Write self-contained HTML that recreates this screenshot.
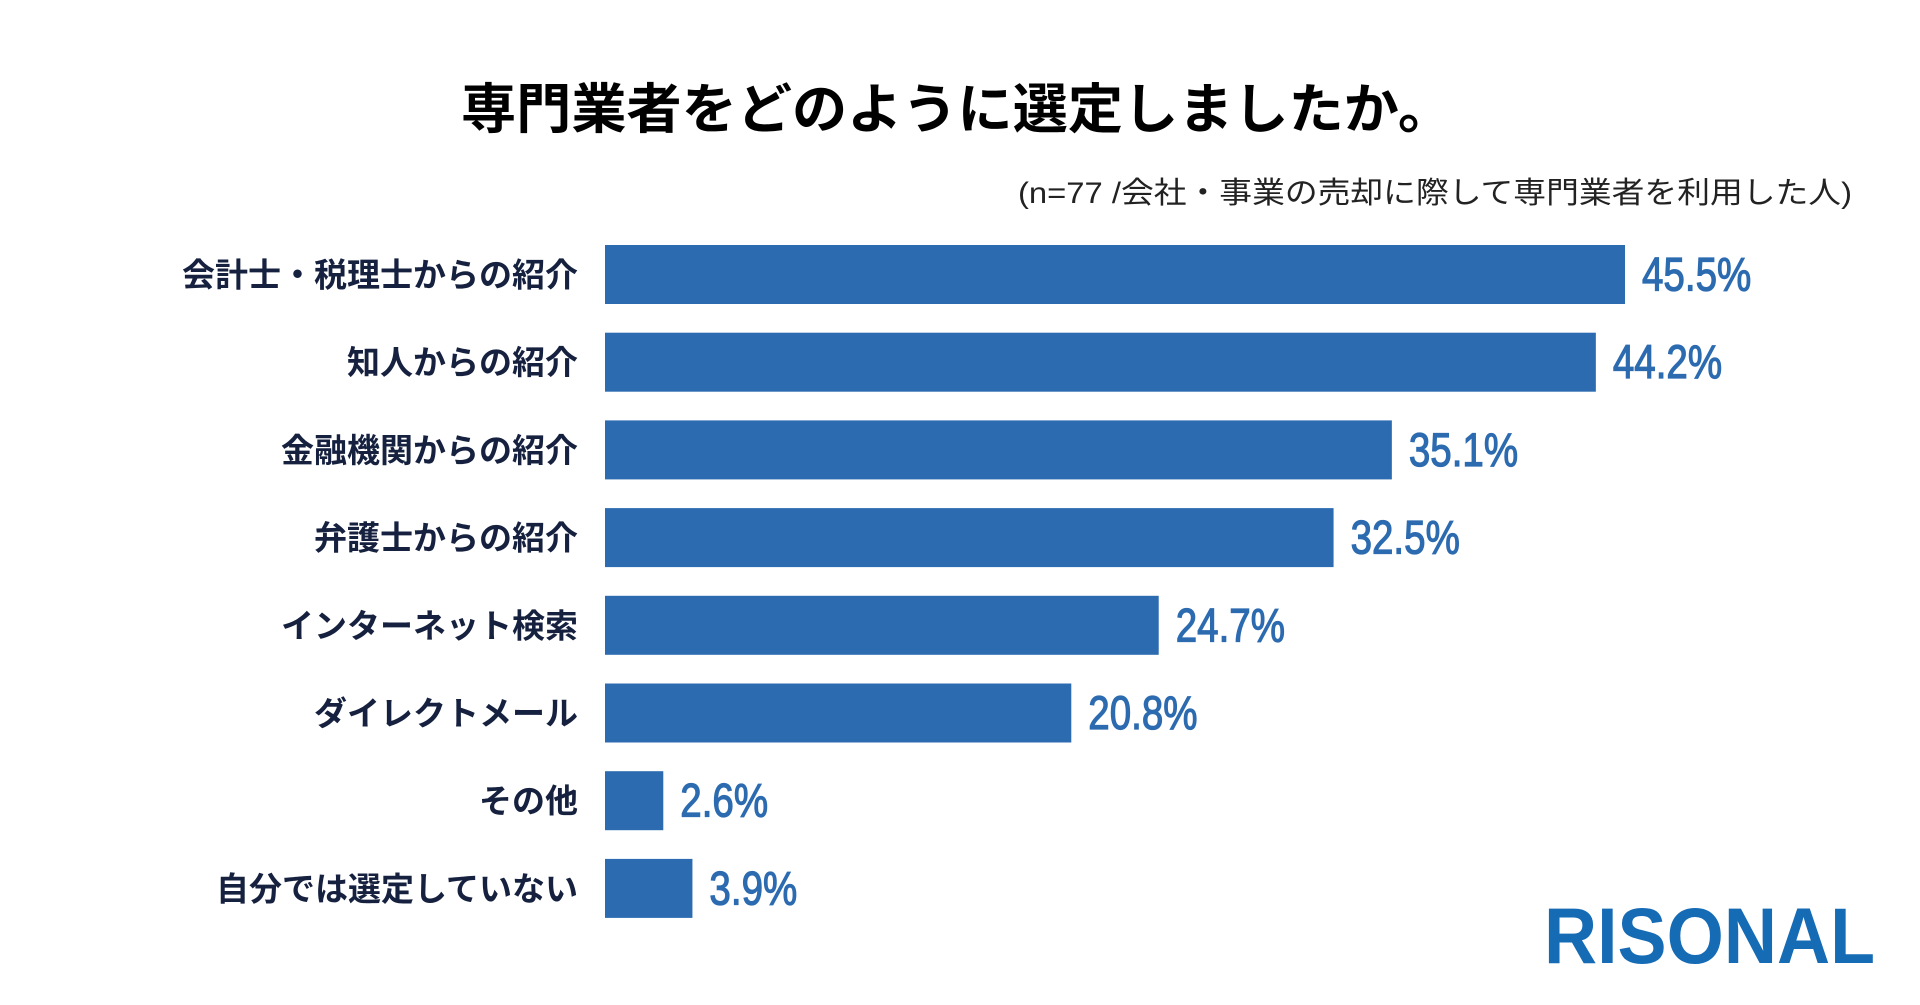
<!DOCTYPE html>
<html><head><meta charset="utf-8"><style>
html,body{margin:0;padding:0;background:#fff;}
svg{display:block}
</style></head><body>
<svg id="chart" width="1920" height="1005" viewBox="0 0 1920 1005" xmlns="http://www.w3.org/2000/svg">
<text x="461" y="128" font-family="'Liberation Sans','Noto Sans CJK JP',sans-serif" font-weight="bold" font-size="54" fill="#000" textLength="992" lengthAdjust="spacingAndGlyphs">専門業者をどのように選定しましたか。</text>
<text x="1018" y="203" font-family="'Liberation Sans','Noto Sans CJK JP',sans-serif" font-size="30" fill="#222" textLength="834" lengthAdjust="spacingAndGlyphs">(n=77 /会社・事業の売却に際して専門業者を利用した人)</text>
<g id="bars"></g>
<text x="1544" y="963" font-family="'Liberation Sans',sans-serif" font-weight="bold" font-size="79" fill="#166bb5" textLength="331" lengthAdjust="spacingAndGlyphs">RISONAL</text>
</svg>
<script>
const categories = ["会計士・税理士からの紹介","知人からの紹介","金融機関からの紹介","弁護士からの紹介","インターネット検索","ダイレクトメール","その他","自分では選定していない"];
const values = [45.5,44.2,35.1,32.5,24.7,20.8,2.6,3.9];
const valueLabels = ["45.5%","44.2%","35.1%","32.5%","24.7%","20.8%","2.6%","3.9%"];
const NS="http://www.w3.org/2000/svg";
const x0=605, pxPer=1020/45.5, top0=245, pitch=87.7, bh=59;
function xScale(v){return x0+v*pxPer;}
function yScale(i){return top0+i*pitch;}
const g=document.getElementById('bars');
categories.forEach((c,i)=>{
  const y=yScale(i), cy=y+bh/2;
  const lab=document.createElementNS(NS,'text');
  
  
  lab.setAttribute('x',578);lab.setAttribute('y',cy+12);
  lab.setAttribute('text-anchor','end');
  lab.setAttribute('font-family',"'Liberation Sans','Noto Sans CJK JP',sans-serif");
  lab.setAttribute('font-weight','bold');lab.setAttribute('font-size','33');
  lab.setAttribute('fill','#16213f');lab.textContent=c;g.appendChild(lab);
  const r=document.createElementNS(NS,'rect');
  
  
  r.setAttribute('x',x0);r.setAttribute('y',y);
  r.setAttribute('width',xScale(values[i])-x0);r.setAttribute('height',bh);
  r.setAttribute('fill','#2c6bb0');g.appendChild(r);
  const tx=xScale(values[i])+17;
  const t=document.createElementNS(NS,'text');
  
  
  t.setAttribute('x',0);t.setAttribute('y',cy+16);
  t.setAttribute('transform','translate('+tx+',0) scale(0.82,1)');
  t.setAttribute('font-family',"'Liberation Sans',sans-serif");
  t.setAttribute('font-size','47');t.setAttribute('fill','#2c6bb0');
  t.setAttribute('stroke','#2c6bb0');t.setAttribute('stroke-width','1.2');
  t.textContent=valueLabels[i];g.appendChild(t);
});
</script>
</body></html>
